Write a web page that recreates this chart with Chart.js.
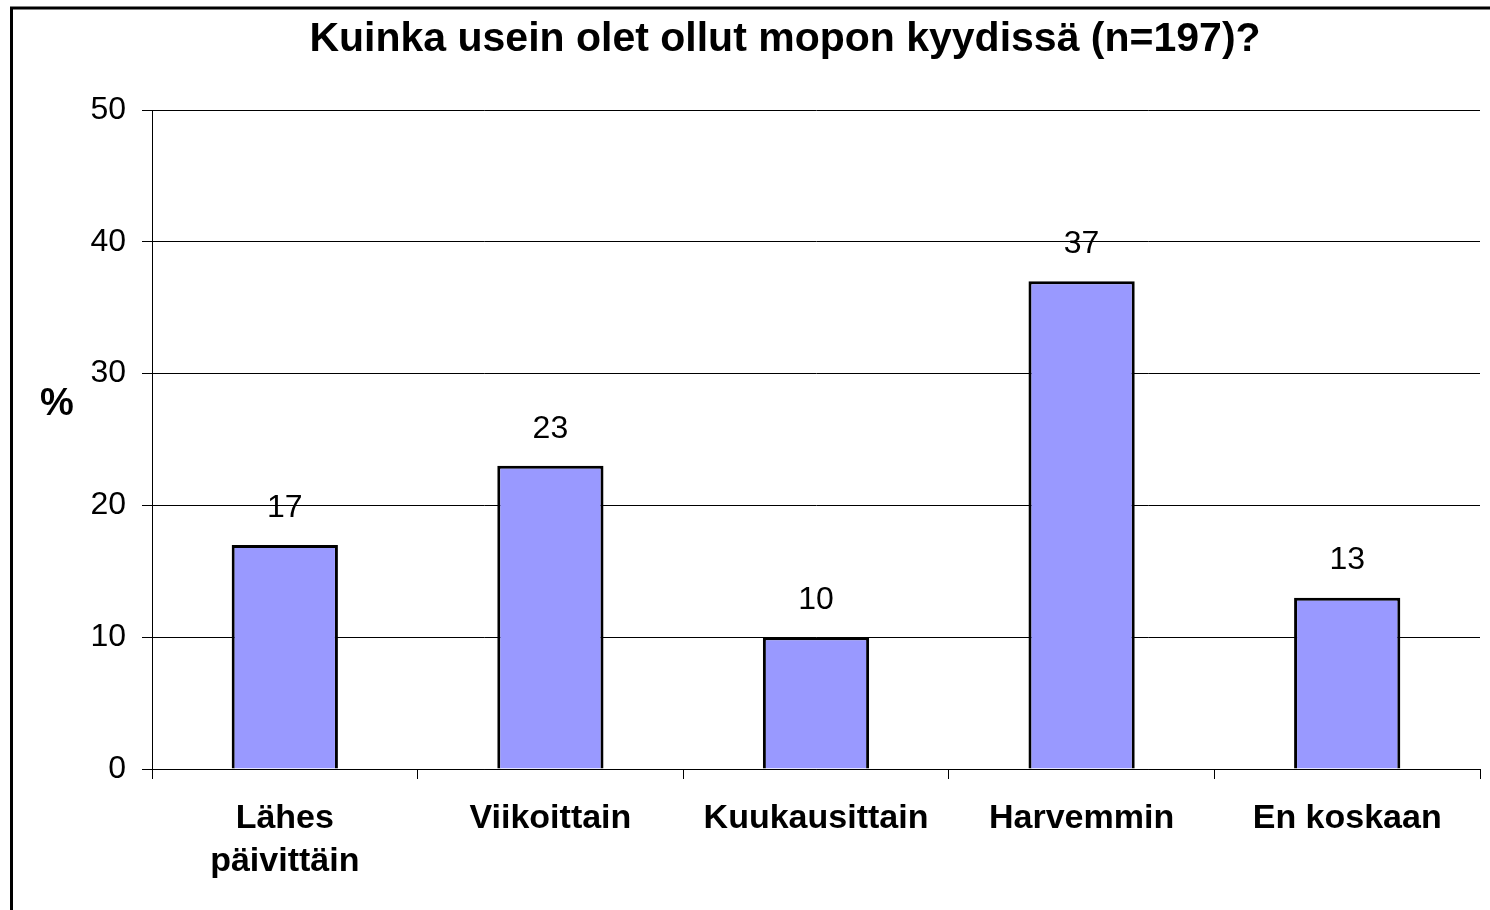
<!DOCTYPE html>
<html>
<head>
<meta charset="utf-8">
<script src="https://cdn.jsdelivr.net/npm/chart.js@4.4.1/dist/chart.umd.min.js"></script>
<style>
  html, body { margin: 0; padding: 0; background: #fff; }
  #wrap { width: 1490px; height: 910px; }
</style>
</head>
<body>
<div id="wrap"><canvas id="c" width="1490" height="910"></canvas></div>
<script>
const categories = [['Lähes', 'päivittäin'], 'Viikoittain', 'Kuukausittain', 'Harvemmin', 'En koskaan'];
const values = [17, 23, 10, 37, 13];
const yTicks = [0, 10, 20, 30, 40, 50];
const titleText = 'Kuinka usein olet ollut mopon kyydissä (n=197)?';
const yAxisTitle = '%';

const FONT = "'Liberation Sans', Arial, sans-serif";

const decor = {
  id: 'decor',
  beforeDraw(chart) {
    const ctx = chart.ctx;
    ctx.save();
    ctx.fillStyle = '#fff';
    ctx.fillRect(0, 0, chart.width, chart.height);
    ctx.restore();
  },
  afterDraw(chart) {
    const ctx = chart.ctx;
    ctx.save();
    ctx.fillStyle = '#000';
    ctx.textAlign = 'center';
    ctx.textBaseline = 'middle';
    // title
    ctx.font = 'bold 41px ' + FONT;
    ctx.fillText(titleText, 785, 40);
    // value labels
    const meta = chart.getDatasetMeta(0);
    ctx.font = '32px ' + FONT;
    meta.data.forEach((bar, i) => {
      ctx.fillText(String(values[i]), bar.x, bar.y - 37);
    });
    // y axis title
    ctx.font = 'bold 38px ' + FONT;
    ctx.fillText(yAxisTitle, 57, 405);
    // outer frame
    ctx.lineWidth = 3;
    ctx.strokeStyle = '#000';
    ctx.strokeRect(11.5, 8, 1500, 1000);
    ctx.restore();
  }
};

new Chart(document.getElementById('c'), {
  type: 'bar',
  data: {
    labels: categories,
    datasets: [{
      data: values,
      backgroundColor: '#9999FF',
      borderColor: '#000',
      borderWidth: 3,
      barPercentage: 0.4,
      categoryPercentage: 1.0
    }]
  },
  options: {
    responsive: false,
    animation: false,
    devicePixelRatio: 1,
    layout: { padding: { left: 0, right: 10, top: 110, bottom: 0 } },
    plugins: {
      legend: { display: false },
      tooltip: { enabled: false },
      title: { display: false }
    },
    scales: {
      x: {
        offset: true,
        afterFit(scale) { scale.height = 141; },
        grid: {
          offset: true,
          drawOnChartArea: false,
          drawTicks: true,
          tickLength: 10,
          color: '#000',
          lineWidth: 1
        },
        border: { display: true, color: '#000', width: 1 },
        ticks: {
          color: '#000',
          padding: 18,
          maxRotation: 0,
          autoSkip: false,
          font: { family: FONT, size: 34, weight: 'bold', lineHeight: 1.27 }
        }
      },
      y: {
        min: 0,
        max: 50,
        afterFit(scale) { scale.width = 152; },
        afterBuildTicks(scale) { scale.ticks = yTicks.map(v => ({ value: v })); },
        grid: {
          drawOnChartArea: true,
          drawTicks: true,
          tickLength: 10,
          color: '#000',
          lineWidth: 1
        },
        border: { display: true, color: '#000', width: 1 },
        ticks: {
          color: '#000',
          padding: 16,
          font: { family: FONT, size: 32 }
        }
      }
    }
  },
  plugins: [decor]
});
</script>
</body>
</html>
